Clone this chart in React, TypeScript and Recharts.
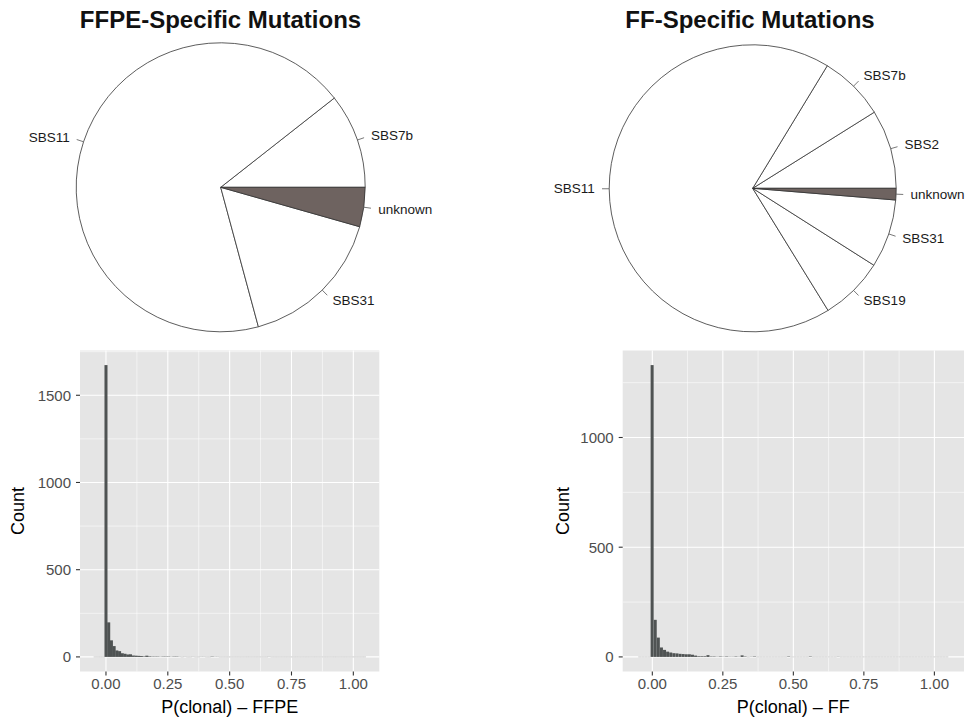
import React from 'react';
import { PieChart, Pie, Cell, BarChart, Bar, XAxis, YAxis, CartesianGrid } from 'recharts';

// ---------- Pie data (shares, counter-clockwise from 3 o'clock) ----------
const ffpePieNames = ['SBS7b', 'SBS11', 'SBS31', 'unknown'];
const ffpePieValues = [10.6, 68.6, 16.4, 4.4];
const ffPieNames = ['SBS2', 'SBS7b', 'SBS11', 'SBS19', 'SBS31', 'unknown'];
const ffPieValues = [8.9, 7.4, 67.5, 7.2, 7.7, 1.3];

// ---------- Histogram data ----------
const binStart = -0.05;
const binWidth = 0.011;
const ffpeCounts = [
  0, 0, 0, 0, 1673, 198, 95, 62, 37, 33,
  21, 18, 14, 15, 8, 7, 6, 5, 3, 7,
  3, 2, 2, 2, 1, 2, 2, 2, 1, 2,
  2, 1, 0, 1, 0, 0, 1, 0, 0, 1,
  1, 0, 0, 2, 1, 1, 0, 0, 0, 0,
  0, 0, 0, 0, 0, 0, 0, 0, 0, 0,
  0, 0, 0, 0, 1, 0, 0, 0, 0, 0,
  0, 0, 0, 0, 0, 0, 0, 0, 0, 0,
  0, 0, 0, 0, 0, 0, 0, 0, 0, 0,
  0, 0, 0, 0, 0, 0, 0, 0, 0, 0,
];
const ffCounts = [
  0, 0, 0, 0, 1330, 169, 88, 43, 32, 24,
  20, 17, 16, 14, 13, 12, 12, 10, 6, 3,
  3, 3, 8, 2, 2, 1, 2, 1, 2, 1,
  1, 2, 1, 7, 2, 0, 1, 2, 0, 0,
  0, 0, 0, 0, 0, 0, 0, 0, 2, 0,
  0, 0, 0, 0, 0, 2, 0, 0, 0, 0,
  0, 0, 0, 0, 1, 0, 0, 0, 0, 0,
  0, 0, 0, 0, 0, 0, 0, 0, 0, 0,
  0, 0, 0, 0, 0, 0, 0, 0, 0, 0,
  0, 0, 0, 0, 0, 0, 0, 0, 0, 0,
];
const xTicks = [0, 0.25, 0.5, 0.75, 1];
const xMinorTicks = [0.125, 0.375, 0.625, 0.875];
const ffpeYTicks = [0, 500, 1000, 1500];
const ffpeYMinor = [250, 750, 1250, 1750];
const ffYTicks = [0, 500, 1000];
const ffYMinor = [250, 750, 1250];

const UNKNOWN_FILL = '#6e6360';
const BAR_FILL = '#4f5353';
const FONT = '"Liberation Sans", Arial, Helvetica, sans-serif';
const RAD = Math.PI / 180;

const toPie = (names: string[], values: number[]) => names.map((n, i) => ({ name: n, value: values[i] }));

function PieLabel(props: any) {
  const { cx, cy, midAngle, outerRadius } = props;
  const name = props.name ?? props.payload?.name;
  const c = Math.cos(-midAngle * RAD);
  const s = Math.sin(-midAngle * RAD);
  const r = outerRadius;
  return (
    <g>
      <line x1={cx + r * c} y1={cy + r * s} x2={cx + 1.05 * r * c} y2={cy + 1.05 * r * s} stroke="#555" strokeWidth={0.8} />
      <text
        x={cx + 1.1 * r * c}
        y={cy + 1.1 * r * s}
        textAnchor={c < 0 ? 'end' : 'start'}
        dominantBaseline="central"
        fontSize={13.5}
        fill="#1a1a1a"
      >
        {name}
      </text>
    </g>
  );
}

function SignaturePie({ names, values, cx, cy, r }: any) {
  const data = toPie(names, values);
  return (
    <PieChart width={484} height={340} margin={{ top: 0, right: 0, bottom: 0, left: 0 }}>
      <Pie
        data={data}
        dataKey="value"
        nameKey="name"
        cx={cx}
        cy={cy}
        innerRadius={0}
        outerRadius={r}
        startAngle={0}
        endAngle={360}
        stroke="#333"
        strokeWidth={0.8}
        isAnimationActive={false}
        label={PieLabel}
        labelLine={false}
      >
        {data.map((d) => (
          <Cell key={d.name} fill={d.name === 'unknown' ? UNKNOWN_FILL : '#ffffff'} />
        ))}
      </Pie>
    </PieChart>
  );
}

function HistShape(props: any) {
  const { x, y, width, height, payload } = props;
  if (payload && payload.count > 0) {
    return <rect x={x} y={y} width={width} height={height} fill={BAR_FILL} />;
  }
  if (payload && payload.inRange) {
    return <line x1={x} x2={x + width} y1={y + height} y2={y + height} stroke="#cfcfcf" strokeWidth={1} />;
  }
  return <g />;
}

function Histogram({ counts, yTicks, yMinor, xTitle, width, margin, yAxisWidth, yTitleDx }: any) {
  const maxCount = Math.max(...counts);
  const pad = 5;
  const rows: any[] = [];
  for (let j = 0; j < counts.length + 2 * pad; j++) {
    const k = j - pad;
    const inRange = k >= 0 && k < counts.length;
    rows.push({ bin: j, x: binStart + (k + 0.5) * binWidth, count: inRange ? counts[k] : 0, inRange });
  }
  const xDomain = [binStart - pad * binWidth, binStart + (counts.length + pad) * binWidth];
  const yDomain = [-0.05 * maxCount, 1.05 * maxCount];
  return (
    <BarChart width={width} height={384} data={rows} margin={margin} barCategoryGap={0} barGap={0}>
      <CartesianGrid
        xAxisId="num"
        verticalValues={xMinorTicks}
        horizontalValues={yMinor}
        stroke="#ffffff"
        strokeWidth={0.55}
        fill="#e5e5e5"
        fillOpacity={1}
      />
      <CartesianGrid xAxisId="num" verticalValues={xTicks} horizontalValues={yTicks} stroke="#ffffff" strokeWidth={1.1} />
      <XAxis
        xAxisId="num"
        dataKey="x"
        type="number"
        orientation="bottom"
        domain={xDomain}
        allowDataOverflow
        ticks={xTicks}
        interval={0}
        tickFormatter={(v: number) => v.toFixed(2)}
        axisLine={false}
        tickLine={{ stroke: '#333', strokeWidth: 1.1 }}
        tickSize={4}
        tickMargin={3}
        tick={{ fill: '#4d4d4d', fontSize: 15 }}
        height={52.5}
        label={(p: any) => {
          const vb = p.viewBox;
          return (
            <text x={vb.x + vb.width / 2} y={vb.y + 41} textAnchor="middle" fontSize={18} fill="#000">
              {xTitle}
            </text>
          );
        }}
      />
      <XAxis xAxisId="bins" dataKey="bin" type="category" orientation="top" height={0} hide />
      <YAxis
        domain={yDomain}
        allowDataOverflow
        ticks={yTicks}
        interval={0}
        axisLine={false}
        tickLine={{ stroke: '#333', strokeWidth: 1.1 }}
        tickSize={4}
        tickMargin={5}
        tick={{ fill: '#4d4d4d', fontSize: 15 }}
        width={yAxisWidth}
        label={(p: any) => {
          const vb = p.viewBox;
          const tx = vb.x + yTitleDx;
          const ty = vb.y + vb.height / 2;
          return (
            <text
              x={tx}
              y={ty}
              transform={`rotate(-90, ${tx}, ${ty})`}
              textAnchor="middle"
              dominantBaseline="central"
              fontSize={18}
              fill="#000"
            >
              Count
            </text>
          );
        }}
      />
      <Bar xAxisId="bins" dataKey="count" shape={HistShape} isAnimationActive={false} />
    </BarChart>
  );
}

export default function App() {
  return (
    <div style={{ position: 'absolute', left: 0, top: 0, width: 968, height: 724, background: '#fff', fontFamily: FONT, overflow: 'hidden' }}>
      <div style={{ position: 'absolute', left: 0, top: 0 }}>
        <SignaturePie names={ffpePieNames} values={ffpePieValues} cx={220.7} cy={187.3} r={144.5} />
      </div>
      <div style={{ position: 'absolute', left: 484, top: 0 }}>
        <SignaturePie names={ffPieNames} values={ffPieValues} cx={268.7} cy={188.3} r={143.5} />
      </div>
      <div style={{ position: 'absolute', left: 0, top: 340 }}>
        <Histogram
          counts={ffpeCounts}
          yTicks={ffpeYTicks}
          yMinor={ffpeYMinor}
          xTitle="P(clonal) – FFPE"
          width={390}
          margin={{ top: 10.5, right: 10.7, bottom: 0, left: 10 }}
          yAxisWidth={70}
          yTitleDx={7.5}
        />
      </div>
      <div style={{ position: 'absolute', left: 540, top: 340 }}>
        <Histogram
          counts={ffCounts}
          yTicks={ffYTicks}
          yMinor={ffYMinor}
          xTitle="P(clonal) – FF"
          width={428}
          margin={{ top: 10.5, right: 4, bottom: 0, left: 10 }}
          yAxisWidth={72.7}
          yTitleDx={12.5}
        />
      </div>
      <svg width={968} height={724} style={{ position: 'absolute', left: 0, top: 0, pointerEvents: 'none' }}>
        <text x={220.5} y={28.3} textAnchor="middle" fontWeight="bold" fontSize={24} fill="#111">
          FFPE-Specific Mutations
        </text>
        <text x={750} y={28.3} textAnchor="middle" fontWeight="bold" fontSize={24} fill="#111">
          FF-Specific Mutations
        </text>
      </svg>
    </div>
  );
}
